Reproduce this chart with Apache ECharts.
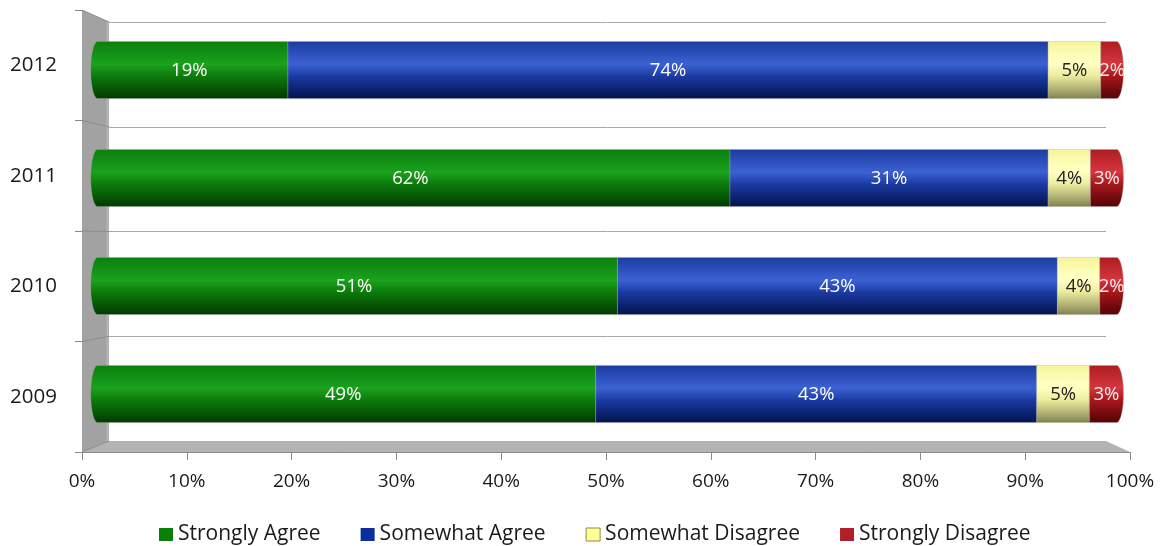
<!DOCTYPE html>
<html><head><meta charset="utf-8">
<script src="https://cdn.jsdelivr.net/npm/echarts@6/dist/echarts.min.js"></script>
<style>html,body{margin:0;padding:0;background:#fff}#c{width:1167px;height:546px}</style>
</head><body><div id="c"></div>
<script>
// ---- data ----
const years = ['2012', '2011', '2010', '2009'];
const seriesNames = ['Strongly Agree', 'Somewhat Agree', 'Somewhat Disagree', 'Strongly Disagree'];
const stronglyAgree    = [19.1, 61.9, 51.0, 48.9];
const somewhatAgree    = [73.6, 30.8, 42.6, 42.7];
const somewhatDisagree = [5.1, 4.1, 4.1, 5.1];
const stronglyDisagree = [2.2, 3.2, 2.3, 3.3];
const xMin = 0, xMax = 100, xStep = 10;

// ---- layout / style ----
const W = 1167, H = 546;
const FRONT = {left: 82, right: 1130, top: 10, bottom: 452};
const BACK  = {left: 109, right: 1106, top: 22, bottom: 441};
const BARS  = {left: 90.7, right: 1123.5, top: 16, bottom: 448};
const FONT = '"Open Sans", "DejaVu Sans", sans-serif';
const legendColors = ['#0a800a', '#0b2f9c', '#ffff99', '#b0202a'];
const gradients = [
  [['#0b7f0b',0],['#16981a',0.3],['#1ca21c',0.4],['#0c7c0c',0.6],['#045204',0.85],['#013801',1]],
  [['#1a3a9e',0],['#3458c8',0.3],['#3b62d2',0.4],['#1c3ca4',0.6],['#0a206c',0.85],['#04134a',1]],
  [['#f4f49a',0],['#ffffbe',0.3],['#ffffc4',0.4],['#ecec9e',0.6],['#aaaa70',0.85],['#7e7e4e',1]],
  [['#ae1c20',0],['#cc3036',0.3],['#d2383e',0.4],['#a8181c',0.6],['#72090e',0.85],['#560407',1]]
];
const labelColors = ['#ffffff', '#ffffff', '#222222', '#fbeaea'];

const values = [stronglyAgree, somewhatAgree, somewhatDisagree, stronglyDisagree];

function seriesData(s) {
  return years.map((y, i) => {
    let start = 0;
    for (let k = 0; k < s; k++) start += values[k][i];
    return [i, start, start + values[s][i], values[s][i]];
  });
}

function makeRenderer(s) {
  return function (params, api) {
    const cat = api.value(0), start = api.value(1), end = api.value(2), v = api.value(3);
    const p0 = api.coord([start, cat]);
    const p1 = api.coord([end, cat]);
    const h = api.size([0, 1])[1] * 0.53;
    const yc = p0[1], yt = yc - h / 2, yb = yc + h / 2;
    const x0 = p0[0], x1 = p1[0], rx = 7, n = 28;
    const pts = [];
    if (s === 0) {
      pts.push([x1, yt], [x1, yb]);
      for (let a = 0; a <= n; a++) {
        const t = Math.PI / 2 + Math.PI * a / n;
        pts.push([x0 + rx + rx * Math.cos(t), yc + (h / 2) * Math.sin(t)]);
      }
    } else if (s === values.length - 1) {
      pts.push([x0, yb], [x0, yt]);
      for (let a = 0; a <= n; a++) {
        const t = -Math.PI / 2 + Math.PI * a / n;
        pts.push([x1 - rx + rx * Math.cos(t), yc + (h / 2) * Math.sin(t)]);
      }
    } else {
      pts.push([x0, yt], [x1, yt], [x1, yb], [x0, yb]);
    }
    const grad = new echarts.graphic.LinearGradient(0, 0, 0, 1,
      gradients[s].map(g => ({offset: g[1], color: g[0]})));
    return {
      type: 'group',
      children: [
        {type: 'polygon', shape: {points: pts}, style: {fill: grad, stroke: 'rgba(170,170,170,0.35)', lineWidth: 1}},
        {type: 'text', style: {text: Math.round(v) + '%', x: (x0 + x1) / 2, y: yc + 0.5,
          align: 'center', verticalAlign: 'middle', fill: labelColors[s],
          font: '18.5px ' + FONT}}
      ]
    };
  };
}

const chart = echarts.init(document.getElementById('c'), null, {renderer: 'canvas'});

const wallLines = [];
for (let k = 0; k <= years.length; k++) {
  const yf = FRONT.top + k * (FRONT.bottom - FRONT.top) / years.length;
  const yb = BACK.top + k * (BACK.bottom - BACK.top) / years.length;
  wallLines.push({type: 'line', z: 1, shape: {x1: FRONT.left, y1: yf, x2: BACK.left, y2: yb},
    style: {stroke: '#8c8c8c', lineWidth: 1}});
}

const option = {
  animation: false,
  backgroundColor: '#ffffff',
  textStyle: {fontFamily: FONT},
  grid: [
    {left: FRONT.left, right: W - FRONT.right, top: FRONT.top, bottom: H - FRONT.bottom},
    {left: BACK.left, right: W - BACK.right, top: BACK.top, bottom: H - BACK.bottom},
    {left: BARS.left, right: W - BARS.right, top: BARS.top, bottom: H - BARS.bottom}
  ],
  xAxis: [
    {gridIndex: 0, type: 'value', min: xMin, max: xMax, interval: xStep, z: 5,
      axisLine: {show: true, lineStyle: {color: '#8a8a8a', width: 1}},
      axisTick: {show: true, length: 8, lineStyle: {color: '#8a8a8a'}},
      axisLabel: {formatter: '{value}%', fontSize: 19, color: '#1a1a1a', margin: 20, fontFamily: FONT},
      splitLine: {show: false}},
    {gridIndex: 1, type: 'value', min: xMin, max: xMax, show: false, splitLine: {show: false}},
    {gridIndex: 2, type: 'value', min: xMin, max: xMax, show: false, splitLine: {show: false}}
  ],
  yAxis: [
    {gridIndex: 0, type: 'category', data: years, inverse: true, z: 5,
      axisLine: {show: false},
      axisTick: {show: true, length: 7, lineStyle: {color: '#8a8a8a'}},
      axisLabel: {fontSize: 20.5, color: '#1a1a1a', margin: 25, fontFamily: FONT},
      splitLine: {show: false}},
    {gridIndex: 1, type: 'category', data: years, inverse: true,
      axisLine: {show: false}, axisTick: {show: false}, axisLabel: {show: false},
      splitLine: {show: true, lineStyle: {color: '#a8a8a8', width: 1}}},
    {gridIndex: 2, type: 'category', data: years, inverse: true, show: false}
  ],
  legend: {
    top: 519, left: 154, itemWidth: 14, itemHeight: 13, itemGap: 40, icon: 'rect',
    textStyle: {fontSize: 21, color: '#1a1a1a', fontFamily: FONT},
    data: seriesNames.map((n, i) => ({name: n, itemStyle: i === 2
      ? {color: legendColors[i], borderColor: '#8c8c3c', borderWidth: 1}
      : {color: legendColors[i]}}))
  },
  graphic: [
    {type: 'polygon', z: 1, shape: {points: [[FRONT.left, FRONT.top], [BACK.left, BACK.top], [BACK.left, BACK.bottom], [FRONT.left, FRONT.bottom]]},
      style: {fill: '#a2a2a2'}},
    {type: 'line', z: 1, shape: {x1: BACK.left - 1.5, y1: BACK.top, x2: BACK.left - 1.5, y2: BACK.bottom},
      style: {stroke: '#b6b6b6', lineWidth: 2}},
    {type: 'polygon', z: 1, shape: {points: [[FRONT.left, FRONT.bottom], [BACK.left, BACK.bottom], [BACK.right, BACK.bottom], [FRONT.right, FRONT.bottom]]},
      style: {fill: '#b3b3b3'}}
  ].concat(wallLines),
  series: seriesNames.map((n, s) => ({
    name: n, type: 'custom', xAxisIndex: 2, yAxisIndex: 2, z: 3,
    itemStyle: {color: legendColors[s]},
    renderItem: makeRenderer(s),
    encode: {x: [1, 2], y: 0},
    data: seriesData(s)
  }))
};
chart.setOption(option);
</script>
</body></html>
